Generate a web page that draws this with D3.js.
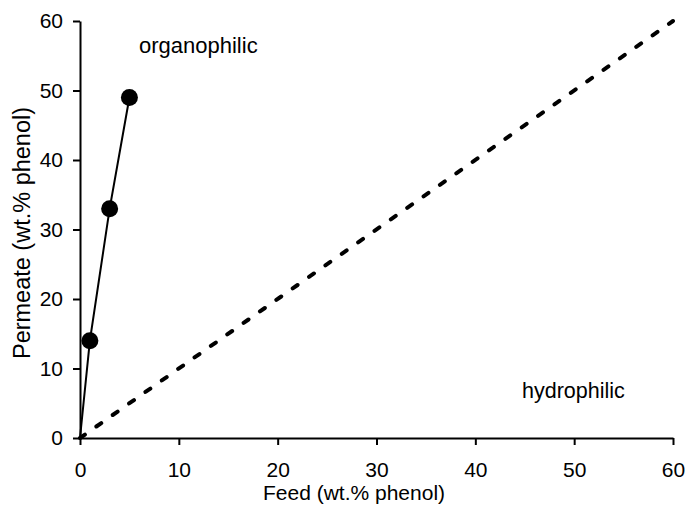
<!DOCTYPE html>
<html>
<head>
<meta charset="utf-8">
<script src="https://cdn.jsdelivr.net/npm/d3@7"></script>
<style>
  body { margin: 0; background: #fff; }
  svg text { font-family: "Liberation Sans", Arial, sans-serif; fill: #000; }
</style>
</head>
<body>
<div id="chart"></div>
<script>
// measured points, feed vs permeate (wt.% phenol)
var feed = [0, 1, 3, 5];
var permeate = [0, 14, 33, 49];
var markerFeed = [1, 3, 5];
var markerPermeate = [14, 33, 49];
// y = x reference line
var diagonal = [0, 60];
var xTicks = [0, 10, 20, 30, 40, 50, 60];
var yTicks = [0, 10, 20, 30, 40, 50, 60];

var width = 686, height = 505;
var svg = d3.select("#chart").append("svg")
  .attr("width", width)
  .attr("height", height);

var x = d3.scaleLinear().domain([0, 60]).range([80, 673]);
var y = d3.scaleLinear().domain([0, 60]).range([438, 21]);

// axes
var xAxis = svg.append("g")
  .attr("transform", "translate(0," + y(0) + ")")
  .call(d3.axisBottom(x).tickValues(xTicks).tickSize(7).tickPadding(17).tickSizeOuter(0));
var yAxis = svg.append("g")
  .attr("transform", "translate(" + x(0) + ",0)")
  .call(d3.axisLeft(y).tickValues(yTicks).tickSize(7).tickPadding(10).tickSizeOuter(0));

[xAxis, yAxis].forEach(function (g) {
  g.selectAll("path, line").attr("stroke", "#000").attr("stroke-width", 2);
  g.selectAll("text").style("font-size", "21px").attr("font-family", null);
});

// dashed 1:1 line
svg.append("path")
  .datum(diagonal)
  .attr("fill", "none")
  .attr("stroke", "#000")
  .attr("stroke-width", 4)
  .attr("stroke-linecap", "round")
  .attr("stroke-dasharray", "6,14")
  .attr("d", d3.line().x(function (d) { return x(d); }).y(function (d) { return y(d); }));

// data line
var pts = feed.map(function (f, i) { return [f, permeate[i]]; });
svg.append("path")
  .datum(pts)
  .attr("fill", "none")
  .attr("stroke", "#000")
  .attr("stroke-width", 2)
  .attr("d", d3.line().x(function (d) { return x(d[0]); }).y(function (d) { return y(d[1]); }));

svg.selectAll("circle.pt")
  .data(markerFeed)
  .enter().append("circle")
  .attr("class", "pt")
  .attr("cx", function (d) { return x(d); })
  .attr("cy", function (d, i) { return y(markerPermeate[i]); })
  .attr("r", 8.5)
  .attr("fill", "#000");

// region labels
svg.append("text").attr("x", 139).attr("y", 53)
  .style("font-size", "22px").text("organophilic");
svg.append("text").attr("x", 522).attr("y", 398)
  .style("font-size", "21.5px").text("hydrophilic");

// axis titles
svg.append("text")
  .attr("x", 354).attr("y", 500)
  .attr("text-anchor", "middle")
  .style("font-size", "21px")
  .text("Feed (wt.% phenol)");
svg.append("text")
  .attr("transform", "translate(30,233) rotate(-90)")
  .attr("text-anchor", "middle")
  .style("font-size", "23.5px")
  .text("Permeate (wt.% phenol)");
</script>
</body>
</html>
